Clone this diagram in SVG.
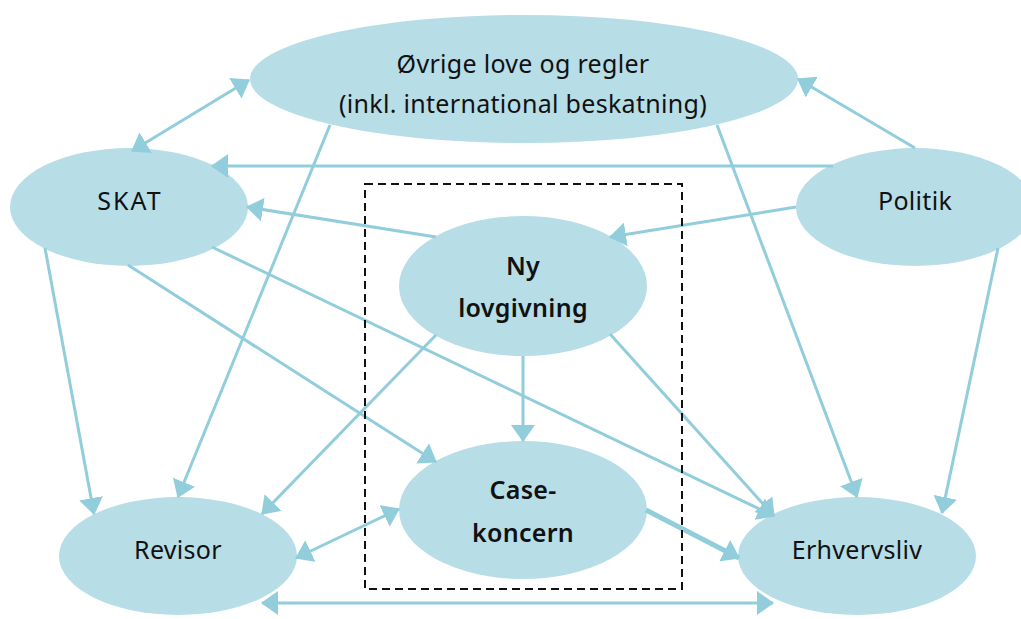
<svg xmlns="http://www.w3.org/2000/svg" width="1021" height="619" viewBox="0 0 1021 619">
  <style>
    .node { fill: #b7dde7; }
    .lbl { font-family: "Noto Sans", "Open Sans", "DejaVu Sans", sans-serif; font-size: 25px; letter-spacing: 0.3px; fill: #111; text-anchor: middle; }
    .bold { font-weight: 600; }
    .wide { letter-spacing: 2px; }
    .edge { stroke: #92cddc; stroke-width: 3; fill: none; marker-end: url(#head); }
    .both { marker-start: url(#head); }
    .thick { stroke-width: 5; }
    .frame { fill: none; stroke: #111; stroke-width: 2; stroke-dasharray: 8 5; }
  </style>
  <defs>
    <marker id="head" viewBox="0 0 17 24" refX="16" refY="12" markerWidth="17" markerHeight="24" markerUnits="userSpaceOnUse" orient="auto-start-reverse">
      <path d="M0,0 L17,12 L0,24 Z" fill="#92cddc"/>
    </marker>
  </defs>
  <rect width="1021" height="619" fill="#ffffff"/>

  <g id="node-ovrige">
    <ellipse class="node" cx="524" cy="79" rx="274" ry="64"/>
    <text class="lbl" x="523" y="73">Øvrige love og regler</text>
    <text class="lbl" x="523" y="113">(inkl. international beskatning)</text>
  </g>
  <g id="node-skat">
    <ellipse class="node" cx="129" cy="207" rx="119" ry="59"/>
    <text class="lbl wide" x="130" y="210">SKAT</text>
  </g>
  <g id="node-politik">
    <ellipse class="node" cx="915" cy="207" rx="119" ry="59"/>
    <text class="lbl" x="915" y="210">Politik</text>
  </g>
  <g id="node-ny">
    <ellipse class="node" cx="523" cy="286" rx="124" ry="70"/>
    <text class="lbl bold" x="523" y="275">Ny</text>
    <text class="lbl bold" x="523" y="317">lovgivning</text>
  </g>
  <g id="node-case">
    <ellipse class="node" cx="523" cy="510" rx="124" ry="69"/>
    <text class="lbl bold" x="523" y="499">Case-</text>
    <text class="lbl bold" x="523" y="542">koncern</text>
  </g>
  <g id="node-revisor">
    <ellipse class="node" cx="178" cy="556" rx="119" ry="59"/>
    <text class="lbl" x="178" y="559">Revisor</text>
  </g>
  <g id="node-erhvervsliv">
    <ellipse class="node" cx="857" cy="556" rx="119" ry="59"/>
    <text class="lbl" x="857" y="559">Erhvervsliv</text>
  </g>

  <g id="connectors">
    <line class="edge both" x1="132" y1="151" x2="249" y2="80"/>
    <line class="edge" x1="833" y1="166" x2="212" y2="166"/>
    <line class="edge" x1="915" y1="148" x2="798" y2="79"/>
    <line class="edge" x1="436" y1="237" x2="247" y2="207"/>
    <line class="edge" x1="796" y1="207" x2="610" y2="237"/>
    <line class="edge" x1="330" y1="125" x2="178" y2="497"/>
    <line class="edge" x1="45" y1="248" x2="94" y2="514"/>
    <line class="edge" x1="128" y1="265" x2="436" y2="462"/>
    <line class="edge" x1="212" y1="247" x2="774" y2="516"/>
    <line class="edge" x1="610" y1="334" x2="774" y2="516"/>
    <line class="edge" x1="523" y1="356" x2="523" y2="441"/>
    <line class="edge" x1="436" y1="335" x2="262" y2="514"/>
    <line class="edge both" x1="399" y1="509" x2="296" y2="558"/>
    <line class="edge thick" x1="646" y1="510" x2="739" y2="558"/>
    <line class="edge both" x1="262" y1="603" x2="773" y2="603"/>
    <line class="edge" x1="717" y1="125" x2="857" y2="497"/>
    <line class="edge" x1="998" y1="248" x2="942" y2="513"/>
  </g>

  <rect id="scope" class="frame" x="365" y="184" width="317" height="405"/>
</svg>
